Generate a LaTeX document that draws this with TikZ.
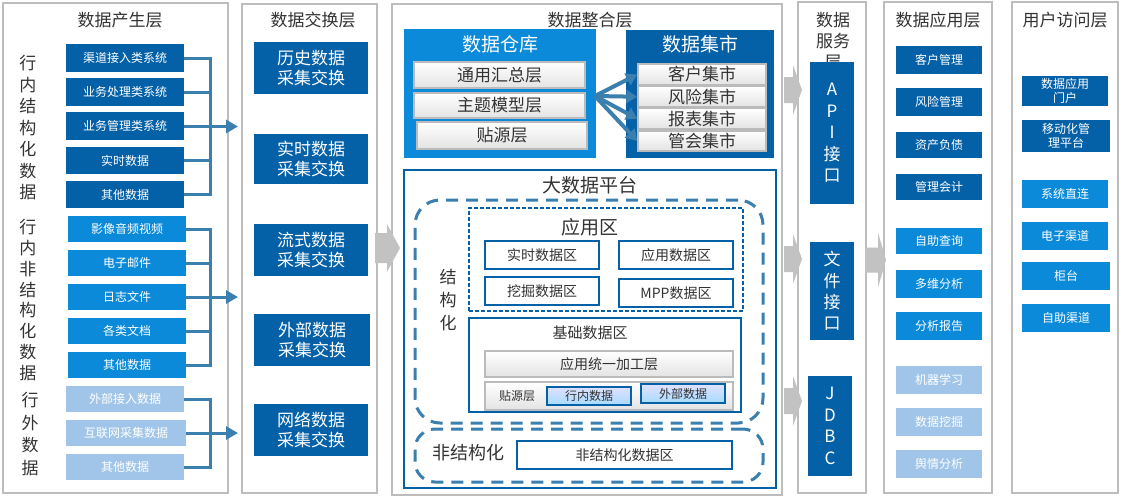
\documentclass[tikz,border=0pt]{standalone}
\usepackage{fontspec}
\setmainfont{Noto Sans CJK SC}
\usetikzlibrary{arrows.meta,fit}
\definecolor{dblue}{HTML}{0461A8}
\definecolor{mblue}{HTML}{0B8AD9}
\definecolor{lblue}{HTML}{A1C5E8}
\definecolor{steel}{HTML}{3B7FAE}
\definecolor{colgray}{HTML}{BDBDBD}
\definecolor{arrgray}{HTML}{C2C2C2}
\definecolor{tgray}{HTML}{333333}
\definecolor{bargray}{HTML}{BBBBBB}
\newcommand\garr[6]{\fill[arrgray] (#1,{#4-#5/2}) -- (#2,{#4-#5/2}) -- (#2,{#4-#6/2}) -- (#3,#4) -- (#2,{#4+#6/2}) -- (#2,{#4+#5/2}) -- (#1,{#4+#5/2}) -- cycle;}
\newcommand\mybox[7]{\node[#1,minimum width={#5-#3},minimum height={#6-#4}] (#2) at ({(#3+#5)/2},{(#4+#6)/2}) {#7};}
\tikzset{
  col/.style={draw=colgray,line width=2pt,fill=white,inner sep=0pt},
  ttl/.style={text=tgray,font=\fontsize{17}{21}\selectfont,align=center,inner sep=0pt},
  bx/.style={inner sep=0pt,text=white,font=\fontsize{12}{14}\selectfont,align=center},
  dk/.style={bx,fill=dblue},
  md/.style={bx,fill=mblue},
  lt/.style={bx,fill=lblue},
  big/.style={font=\fontsize{17}{20}\selectfont},
  conn/.style={draw=steel,line width=3pt},
  gbar/.style={draw=bargray,line width=1.5pt,top color=white,bottom color=gray!22,inner sep=0pt,text=tgray},
  wbox/.style={draw=dblue,line width=2pt,fill=white,inner sep=0pt,text=tgray},
  bluegr/.style={draw=dblue,line width=2pt,top color=blue!12,bottom color=blue!40!cyan!35,inner sep=0pt,text=tgray,font=\fontsize{12}{14}\selectfont},
  dash1/.style={draw=steel,line width=3pt,dash pattern=on 12pt off 8pt,inner sep=0pt},
  dash2/.style={draw=dblue,line width=1.8pt,dash pattern=on 4pt off 2pt,inner sep=0pt},
  vt/.style={text=tgray,align=center,inner sep=0pt},
}
\begin{document}
\begin{tikzpicture}[x=1pt,y=-1pt]
\useasboundingbox (0,0) rectangle (1126,498);
% columns
\node[col,fit={(3,3)(228,493)}] (c1) {};
\node[col,fit={(242,4)(377,493)}] (c2) {};
\node[col,fit={(392,4)(782,495)}] (c3) {};
\node[col,fit={(798,2)(866,493)}] (c4) {};
\node[col,fit={(884,2)(992,493)}] (c5) {};
\node[col,fit={(1012,2)(1118,493)}] (c6) {};
% titles
\node[ttl] (t1) at (120,20) {数据产生层};
\node[ttl] (t2) at (313,20) {数据交换层};
\node[ttl] (t3) at (590,20) {数据整合层};
\node[ttl] (t4) at (833,41) {数据\\服务\\层};
\node[ttl] (t5) at (938,20) {数据应用层};
\node[ttl] (t6) at (1065,20) {用户访问层};
% column 1 labels
\node[vt,font=\fontsize{17}{21.5}\selectfont] (l1) at (28,128) {行\\内\\结\\构\\化\\数\\据};
\node[vt,font=\fontsize{17}{20.8}\selectfont] (l2) at (28,300) {行\\内\\非\\结\\构\\化\\数\\据};
\node[vt,font=\fontsize{17}{22.5}\selectfont] (l3) at (30,434) {行\\外\\数\\据};
% column 1 boxes
\mybox{dk}{a1}{66}{44}{184}{72}{渠道接入类系统}
\mybox{dk}{a2}{66}{78}{184}{106}{业务处理类系统}
\mybox{dk}{a3}{66}{112}{184}{140}{业务管理类系统}
\mybox{dk}{a4}{66}{147}{184}{174}{实时数据}
\mybox{dk}{a5}{66}{181}{184}{208}{其他数据}
\mybox{md}{b1}{68}{216}{186}{242}{影像音频视频}
\mybox{md}{b2}{68}{250}{186}{276}{电子邮件}
\mybox{md}{b3}{68}{284}{186}{310}{日志文件}
\mybox{md}{b4}{68}{318}{186}{344}{各类文档}
\mybox{md}{b5}{68}{352}{186}{378}{其他数据}
\mybox{lt}{e1}{66}{386}{184}{412}{外部接入数据}
\mybox{lt}{e2}{66}{420}{186}{446}{互联网采集数据}
\mybox{lt}{e3}{66}{454}{184}{480}{其他数据}
% buses
\coordinate (bus) at (210,0);
\coordinate (tipA) at (238,126.5);
\coordinate (tipB) at (238,297);
\coordinate (tipC) at (238,433);
\draw[conn] (a1.east) -- (a1.east -| bus) -- (a5.east -| bus) -- (a5.east);
\draw[conn] (a2.east) -- (a2.east -| bus);
\draw[conn] (a3.east) -- (a3.east -| bus);
\draw[conn] (a4.east) -- (a4.east -| bus);
\draw[conn,-{Triangle[length=12pt,width=13pt]}] (tipA -| bus) -- (tipA);
\draw[conn] (b1.east) -- (b1.east -| bus) -- (b5.east -| bus) -- (b5.east);
\draw[conn] (b2.east) -- (b2.east -| bus);
\draw[conn] (b3.east) -- (b3.east -| bus);
\draw[conn] (b4.east) -- (b4.east -| bus);
\draw[conn,-{Triangle[length=12pt,width=13pt]}] (tipB -| bus) -- (tipB);
\draw[conn] (e1.east) -- (e1.east -| bus) -- (e3.east -| bus) -- (e3.east);
\draw[conn] (e2.east) -- (e2.east -| bus);
\draw[conn,-{Triangle[length=12pt,width=13pt]}] (tipC -| bus) -- (tipC);
% column 2
\mybox{dk,big}{x1}{254}{42}{368}{94}{历史数据\\采集交换}
\mybox{dk,big}{x2}{254}{134}{368}{184}{实时数据\\采集交换}
\mybox{dk,big}{x3}{254}{224}{368}{276}{流式数据\\采集交换}
\mybox{dk,big}{x4}{254}{314}{370}{366}{外部数据\\采集交换}
\mybox{dk,big}{x5}{254}{404}{368}{456}{网络数据\\采集交换}
% column 3: warehouse and marts
\mybox{md}{dw}{404}{29}{596}{158}{}
\node[bx,font=\fontsize{19}{22}\selectfont] (dwt) at (500,44) {数据仓库};
\mybox{gbar,font=\fontsize{17}{20}\selectfont}{w1}{414}{62}{585}{88}{通用汇总层}
\mybox{gbar,font=\fontsize{17}{20}\selectfont}{w2}{414}{93}{585}{118}{主题模型层}
\mybox{gbar,font=\fontsize{17}{20}\selectfont}{w3}{417}{122}{587}{149}{贴源层}
\mybox{dk}{dm}{626}{30}{774}{158}{}
\node[bx,font=\fontsize{19}{22}\selectfont] (dmt) at (700,44) {数据集市};
\mybox{gbar,font=\fontsize{17}{20}\selectfont}{m1}{638}{64}{766}{85}{客户集市}
\mybox{gbar,font=\fontsize{17}{20}\selectfont}{m2}{638}{86.5}{766}{107}{风险集市}
\mybox{gbar,font=\fontsize{17}{20}\selectfont}{m3}{638}{108.5}{766}{129}{报表集市}
\mybox{gbar,font=\fontsize{17}{20}\selectfont}{m4}{638}{131}{766}{151}{管会集市}
\coordinate (src) at (595,96);
\foreach \m in {m1,m2,m3,m4}{
  \draw[draw=steel,line width=4pt,-{Triangle[length=11pt,width=13pt]}] (src) -- (\m.west);
}
% big data platform
\mybox{wbox}{bdp}{404}{170}{776}{488}{}
\node[ttl,font=\fontsize{19}{22}\selectfont] (bdpt) at (590,185) {大数据平台};
\node[dash1,rounded corners=25pt,fit={(415,200)(763,423)}] (st) {};
\node[vt,font=\fontsize{17}{23}\selectfont] (stl) at (448,300) {结\\构\\化};
\node[dash2,fit={(469,208)(743,311)}] (app) {};
\node[ttl,font=\fontsize{19}{22}\selectfont] (appt) at (590,227) {应用区};
\mybox{wbox,font=\fontsize{14}{16}\selectfont}{p1}{485}{241}{599}{269}{实时数据区}
\mybox{wbox,font=\fontsize{14}{16}\selectfont}{p2}{619}{241}{733}{269}{应用数据区}
\mybox{wbox,font=\fontsize{14}{16}\selectfont}{p3}{485}{277}{599}{305}{挖掘数据区}
\mybox{wbox,font=\fontsize{14}{16}\selectfont}{p4}{619}{279}{733}{307}{MPP数据区}
\mybox{wbox}{base}{469}{318}{741}{412}{}
\node[ttl,font=\fontsize{15}{18}\selectfont] (baset) at (590,333) {基础数据区};
\mybox{gbar,font=\fontsize{14}{16}\selectfont}{uni}{485}{351}{733}{377}{应用统一加工层}
\mybox{gbar}{tyc}{485}{382}{733}{410}{}
\node[vt,font=\fontsize{12}{14}\selectfont] (tyct) at (517,396) {贴源层};
\mybox{bluegr}{hn}{547}{387}{631}{405}{行内数据}
\mybox{bluegr}{wb}{641}{384}{725}{403}{外部数据}
\node[dash1,rounded corners=20pt,fit={(415,429)(763,482)}] (ust) {};
\node[vt,font=\fontsize{18}{20}\selectfont] (ustl) at (468,453) {非结构化};
\mybox{wbox,font=\fontsize{14}{16}\selectfont}{usd}{517}{441}{732}{469}{非结构化数据区}
% column 4
\mybox{dk,font=\fontsize{17}{21.5}\selectfont}{api}{810}{62}{854}{204}{A\\P\\I\\接\\口}
\mybox{dk,font=\fontsize{17}{21.3}\selectfont}{file}{810}{242}{854}{340}{文\\件\\接\\口}
\mybox{dk,font=\fontsize{17}{21.7}\selectfont}{jdbc}{808}{376}{852}{476}{J\\D\\B\\C}
% column 5
\mybox{dk}{u1}{896}{46}{982}{74}{客户管理}
\mybox{dk}{u2}{896}{88}{982}{116}{风险管理}
\mybox{dk}{u3}{896}{132}{982}{158}{资产负债}
\mybox{dk}{u4}{896}{174}{982}{200}{管理会计}
\mybox{md}{u5}{896}{228}{982}{254}{自助查询}
\mybox{md}{u6}{896}{270}{982}{298}{多维分析}
\mybox{md}{u7}{896}{312}{982}{340}{分析报告}
\mybox{lt}{u8}{896}{366}{982}{394}{机器学习}
\mybox{lt}{u9}{896}{408}{982}{436}{数据挖掘}
\mybox{lt}{u10}{896}{450}{982}{478}{舆情分析}
% column 6
\mybox{dk,font=\fontsize{12}{13.5}\selectfont}{v1}{1022}{76}{1108}{106}{数据应用\\门户}
\mybox{dk,font=\fontsize{12}{14}\selectfont}{v2}{1022}{120}{1110}{152}{移动化管\\理平台}
\mybox{md}{v3}{1022}{180}{1108}{208}{系统直连}
\mybox{md}{v4}{1022}{222}{1108}{250}{电子渠道}
\mybox{md}{v5}{1022}{262}{1110}{290}{柜台}
\mybox{md}{v6}{1022}{304}{1110}{332}{自助渠道}
% grey block arrows
\garr{375}{387}{400}{248}{30}{48}
\garr{784}{793}{802}{90}{26}{50}
\garr{784}{793}{802}{259}{26}{50}
\garr{784}{793}{802}{401}{26}{50}
\garr{865}{878}{886}{260}{25}{55}
\end{tikzpicture}
\end{document}
